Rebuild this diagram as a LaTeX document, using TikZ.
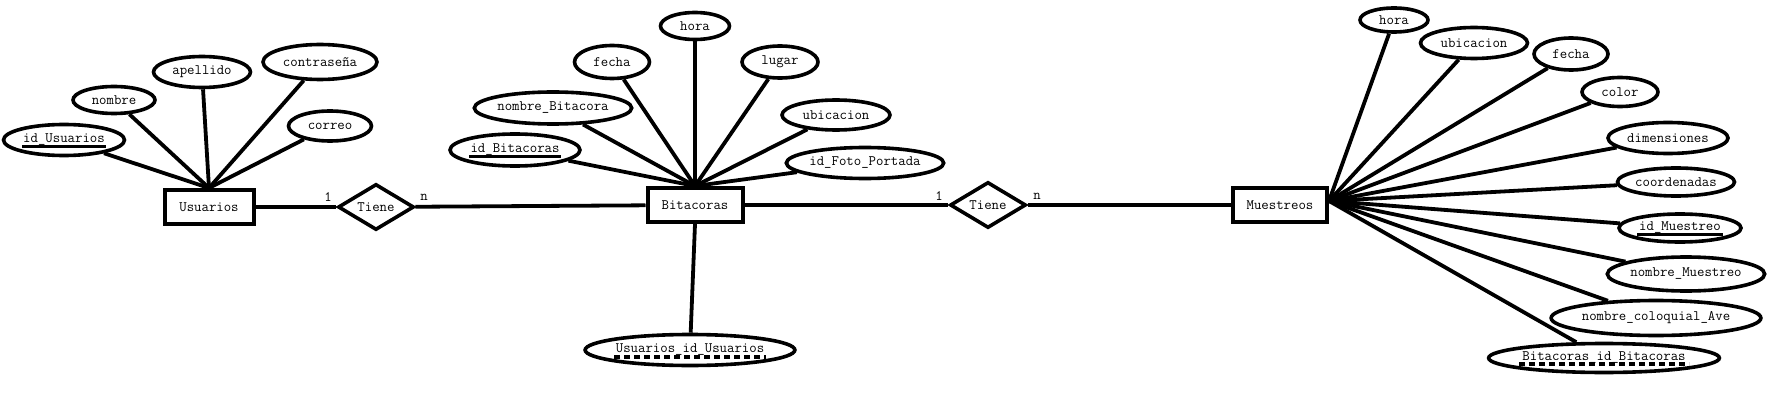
\documentclass[tikz,border=0pt]{standalone}
\usepackage{fontspec}
\usepackage{tikz}
\usetikzlibrary{shapes,calc}

\begin{document}
\begin{tikzpicture}[
      x=1pt, y=-1pt,
      every node/.style={font=\ttfamily\fontsize{14.4}{16}\selectfont, inner sep=0pt},
      entity/.style={draw, rectangle, line width=4pt, minimum width=89pt,
                     minimum height=34pt},
      relation/.style={draw, diamond, line width=3.6pt, minimum width=76pt,
                       minimum height=46pt, aspect=1.6},
      attr/.style={draw, ellipse, line width=3.6pt},
      lnk/.style={line width=3.8pt},
      pkline/.style={line width=3pt},
      fkline/.style={line width=3.4pt, dash pattern=on 6pt off 4pt},
    ]
    \useasboundingbox (0,0) rectangle (1767,417);
    % entidades y relaciones
    \node[entity] (usu) at (209,207) {Usuarios};
    \node[entity, minimum width=95pt] (bit) at (695,205) {Bitacoras};
    \node[entity, minimum width=94pt] (mue) at (1280,205) {Muestreos};
    \node[relation] (t1) at (376,207) {Tiene};
    \node[relation] (t2) at (988,205) {Tiene};
    \node (c1) at (328,197) {1};
    \node (c2) at (424,197) {n};
    \node (c3) at (939,196) {1};
    \node (c4) at (1037,196) {n};
    \draw[lnk] (usu) -- (t1);
    \draw[lnk] (t1) -- (bit);
    \draw[lnk] (bit) -- (t2);
    \draw[lnk] (t2) -- (mue);

    % atributos de Usuarios
    \node[attr, minimum width=121pt, minimum height=31pt] (u1) at (64,140) {id\_Usuarios};
    \node[attr, minimum width=82pt, minimum height=27pt] (u2) at (114,100) {nombre};
    \node[attr, minimum width=97pt, minimum height=31pt] (u3) at (202,72) {apellido};
    \node[attr, minimum width=114pt, minimum height=35pt] (u4) at (320,62) {contraseña};
    \node[attr, minimum width=83pt, minimum height=30pt] (u5) at (330,126) {correo};
    \draw[pkline] ($(u1.center)+(-42,7)$) -- ($(u1.center)+(42,7)$);
    \foreach \a in {u1,u2,u3,u4,u5}
      \draw[lnk] (usu.north) -- (\a);

    % atributos de Bitacoras
    \node[attr, minimum width=69pt, minimum height=27pt] (b1) at (695,26) {hora};
    \node[attr, minimum width=75pt, minimum height=33pt] (b2) at (612,62) {fecha};
    \node[attr, minimum width=76pt, minimum height=32pt] (b3) at (780,62) {lugar};
    \node[attr, minimum width=153pt, minimum height=32pt] (b4) at (553,108) {nombre\_Bitacora};
    \node[attr, minimum width=108pt, minimum height=30pt] (b5) at (836,115) {ubicacion};
    \node[attr, minimum width=130pt, minimum height=32pt] (b6) at (515,150) {id\_Bitacoras};
    \node[attr, minimum width=152pt, minimum height=31pt] (b7) at (865,163) {id\_Foto\_Portada};
    \node[attr, minimum width=191pt, minimum height=31pt] (b8) at (690,350) {Usuarios\_id\_Usuarios};
    \draw[pkline] ($(b6.center)+(-46,7)$) -- ($(b6.center)+(46,7)$);
    \draw[fkline] ($(b8.center)+(-76,7)$) -- ($(b8.center)+(76,7)$);
    \foreach \a in {b1,b2,b3,b4,b5,b6,b7}
      \draw[lnk] (bit.north) -- (\a);
    \draw[lnk] (bit.south) -- (b8);

    % atributos de Muestreos
    \coordinate (mq) at ($(mue.east)+(0,-4)$);
    \node[attr, minimum width=68pt, minimum height=24pt] (m1) at (1394,20) {hora};
    \node[attr, minimum width=107pt, minimum height=31pt] (m2) at (1474,43) {ubicacion};
    \node[attr, minimum width=74pt, minimum height=32pt] (m3) at (1571,54) {fecha};
    \node[attr, minimum width=76pt, minimum height=29pt] (m4) at (1620,92) {color};
    \node[attr, minimum width=120pt, minimum height=31pt] (m5) at (1668,138) {dimensiones};
    \node[attr, minimum width=117pt, minimum height=28pt] (m6) at (1676,182) {coordenadas};
    \node[attr, minimum width=122pt, minimum height=28pt] (m7) at (1680,228) {id\_Muestreo};
    \node[attr, minimum width=154pt, minimum height=34pt] (m8) at (1686,274) {nombre\_Muestreo};
    \node[attr, minimum width=184pt, minimum height=35pt] (m9) at (1656,318) {nombre\_coloquial\_Ave};
    \node[attr, minimum width=209pt, minimum height=29pt] (m10) at (1604,358) {Bitacoras\_id\_Bitacoras};
    \draw[pkline] ($(m7.center)+(-43,6)$) -- ($(m7.center)+(43,6)$);
    \draw[fkline] ($(m10.center)+(-85,6)$) -- ($(m10.center)+(85,6)$);
    \foreach \a in {m1,m2,m3,m4,m5,m6,m7,m8,m9,m10}
      \draw[lnk] (mq) -- (\a);
  \end{tikzpicture}
\end{document}
